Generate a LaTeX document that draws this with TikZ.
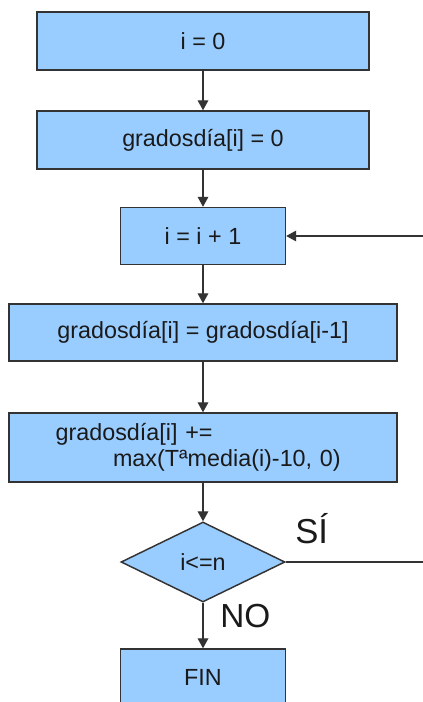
\documentclass[tikz,border=0pt]{standalone}
\usepackage{fontspec}
\setmainfont{Liberation Sans}
\usetikzlibrary{shapes.geometric,arrows.meta}
\definecolor{boxfill}{HTML}{99CCFF}
\definecolor{edge}{HTML}{333333}
\definecolor{ink}{HTML}{1A1A1A}
\begin{document}
\begin{tikzpicture}[x=0.75pt,y=-0.75pt,
  every node/.style={text=ink,font=\fontsize{17.5}{19.5}\selectfont},
  procbox/.style={draw=edge,fill=boxfill,line width=1.1pt,rectangle,inner sep=0pt},
  wide/.style={procbox,minimum width=249pt,minimum height=43.5pt},
  narrow/.style={procbox,minimum width=123.75pt,minimum height=42.75pt},
  full/.style={procbox,minimum width=291pt,minimum height=42.75pt},
  decision/.style={draw=edge,fill=boxfill,line width=1.1pt,diamond,inner sep=0pt,
    minimum width=123pt,minimum height=60pt},
  flow/.style={draw=edge,line width=1pt,-{Triangle[length=7.5pt,width=8pt]}},
  answer/.style={font=\fontsize{26}{28}\selectfont,anchor=base west,inner sep=0pt}]
\useasboundingbox (0,0) rectangle (423,702);
\clip (0,0) rectangle (423,702);
\fill[white] (0,0) rectangle (423,702);

\node[wide]   (init)  at (203,41)    {i = 0};
\node[wide]   (zero)  at (203,140)   {gradosdía[i] = 0};
\node[narrow] (inc)   at (203,236) {i = i + 1};
\node[full]   (copy)  at (203,332.5) {gradosdía[i] = gradosdía[i-1]};
\node[full,minimum height=51.75pt,text width=291pt,align=left] (acc) at (203,447.5)
  {\hspace*{35pt}gradosdía[i] +=\\\hspace*{78pt}max(Tªmedia(i)-10, 0)};
\node[decision] (test) at (203,562) {i<=n};
\node[narrow] (fin)   at (203,677.5) {FIN};

\coordinate (loopdown) at (430,562);
\coordinate (loopup)   at (430,236);

\draw[flow] (init) -- (zero);
\draw[flow] (zero) -- (inc);
\draw[flow] (inc) -- (copy);
\draw[flow] (copy) -- (acc);
\draw[flow] (acc) -- (test);
\draw[flow] (test) -- (fin);
\draw[flow] (test.east) -- (loopdown) -- (loopup) -- (inc.east);

\node[answer] (si) at (295,543) {SÍ};
\node[answer,font=\fontsize{25}{27}\selectfont] (no) at (220,627) {NO};
\end{tikzpicture}
\end{document}
